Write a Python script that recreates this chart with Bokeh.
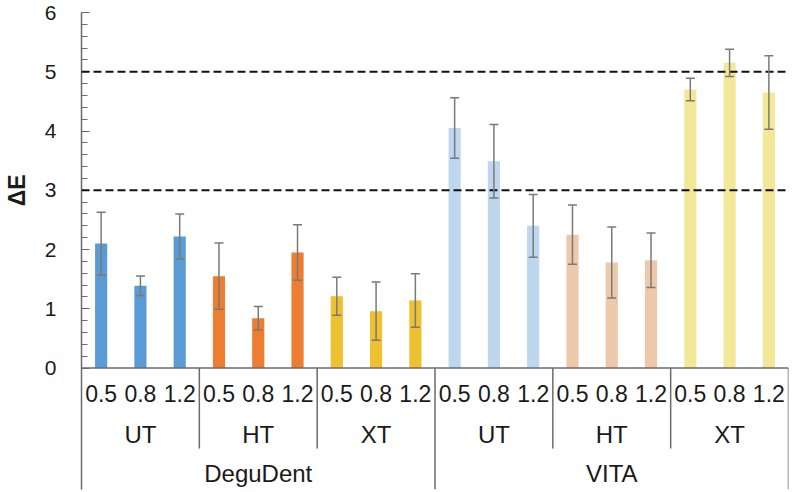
from bokeh.plotting import figure
from bokeh.models import (FactorRange, Range1d, ColumnDataSource, Whisker, TeeHead,
                          Span, LinearAxis, FixedTicker)
from bokeh.core.properties import value
from bokeh.embed import file_html
from bokeh.resources import INLINE

# ---------------- data ----------------
makers = ["DeguDent", "VITA"]
types = ["UT", "HT", "XT"]
thicknesses = ["0.5", "0.8", "1.2"]

# mean ΔE per (maker, type, thickness), in order
degudent_means = [2.10, 1.39, 2.22, 1.55, 0.84, 1.95, 1.21, 0.96, 1.14]
vita_means = [4.05, 3.49, 2.40, 2.25, 1.78, 1.82, 4.70, 5.15, 4.65]
# standard deviations
degudent_sd = [0.53, 0.165, 0.38, 0.56, 0.20, 0.47, 0.32, 0.49, 0.45]
vita_sd = [0.51, 0.62, 0.53, 0.50, 0.60, 0.46, 0.19, 0.23, 0.62]

thresholds = [3, 5]
y_ticks = [0, 1, 2, 3, 4, 5, 6]
y_title = "ΔE"
y_title_level = 3

type_colors = {
    ("DeguDent", "UT"): "#5B9BD5",
    ("DeguDent", "HT"): "#ED7D31",
    ("DeguDent", "XT"): "#EDC12F",
    ("VITA", "UT"): "#BDD7EE",
    ("VITA", "HT"): "#EDC8AB",
    ("VITA", "XT"): "#F2E897",
}

# ---------------- build ----------------
factors = [(m, t, th) for m in makers for t in types for th in thicknesses]
means = degudent_means + vita_means
sds = degudent_sd + vita_sd
colors = [type_colors[(m, t)] for (m, t, th) in factors]

src = ColumnDataSource(dict(
    x=factors, top=means, color=colors,
    upper=[a + b for a, b in zip(means, sds)],
    lower=[a - b for a, b in zip(means, sds)],
))

FONT = "Liberation Sans"
TXT = "#1a1a1a"
AXC = "#6b6b6b"

x_range = FactorRange(*factors, range_padding=0, factor_padding=0,
                      group_padding=0, subgroup_padding=0)
y_bottom = -2.05
p = figure(width=792, height=492, x_range=x_range, y_range=Range1d(y_bottom, 6),
           output_backend="svg", toolbar_location=None, x_axis_location=None,
           min_border_left=81, min_border_right=4, min_border_top=12, min_border_bottom=3)
p.outline_line_color = None
p.grid.visible = False
p.background_fill_color = "white"
p.border_fill_color = "white"

# y axis
ya = p.yaxis[0]
ya.ticker = FixedTicker(ticks=y_ticks,
                        minor_ticks=[i / 5 for i in range(0, 31)])
ya.axis_line_color = AXC
ya.axis_line_width = 1.5
ya.major_tick_line_color = AXC
ya.minor_tick_line_color = AXC
ya.major_tick_in = 8
ya.major_tick_out = 0
ya.minor_tick_in = 6
ya.minor_tick_out = 0
ya.major_label_standoff = 25
ya.major_label_text_font = FONT
ya.major_label_text_font_size = "21px"
ya.major_label_text_color = TXT

# y axis title, drawn as a rotated tick label of an outer axis (at the ΔE = 3 level)
title_axis = LinearAxis(ticker=FixedTicker(ticks=[y_title_level], minor_ticks=[]),
                        major_label_overrides={y_title_level: y_title},
                        major_label_orientation="vertical",
                        major_label_standoff=11,
                        major_label_text_font=FONT,
                        major_label_text_font_size="23px",
                        major_label_text_font_style="bold",
                        major_label_text_color=TXT,
                        axis_line_color=None, major_tick_line_color=None,
                        minor_tick_line_color=None,
                        major_tick_in=0, major_tick_out=0)
p.add_layout(title_axis, "left")

# bars
p.vbar(x="x", top="top", width=0.31, source=src, fill_color="color", line_color=None)

# error bars (drawn over the bars)
wcol = "#7a7a7a"
w = Whisker(source=src, base="x", upper="upper", lower="lower", level="overlay",
            line_color=wcol, line_width=1.5,
            upper_head=TeeHead(size=9, line_color=wcol, line_width=1.5),
            lower_head=TeeHead(size=9, line_color=wcol, line_width=1.5))
p.add_layout(w)

# threshold lines
for t in thresholds:
    p.add_layout(Span(location=t, dimension="width", line_color="#111111",
                      line_width=2, line_dash="8 4"))

# category table (manual multi-level x axis)
n_th = len(thicknesses)
n_total = len(factors)
p.segment(x0=[0], x1=[n_total], y0=[0], y1=[0], line_color=AXC, line_width=1.5)
type_bounds = [n_th * k for k in range(1, len(makers) * len(types)) if k % len(types) != 0]
maker_bounds = [n_th * len(types) * k for k in range(1, len(makers) + 1)]
p.segment(x0=type_bounds, x1=type_bounds, y0=[0] * len(type_bounds),
          y1=[-1.36] * len(type_bounds), line_color=AXC, line_width=1.5)
p.segment(x0=maker_bounds, x1=maker_bounds, y0=[0] * len(maker_bounds),
          y1=[y_bottom] * len(maker_bounds), line_color=AXC, line_width=1.5)

p.text(x=factors, y=[-0.43] * len(factors), text=[f[2] for f in factors],
       text_font=value(FONT), text_font_size="23px", text_color=TXT,
       text_align="center", text_baseline="middle")
mids = [(m, t) for m in makers for t in types]
p.text(x=mids, y=[-1.12] * len(mids), text=[t for (m, t) in mids],
       text_font=value(FONT), text_font_size="24px", text_color=TXT,
       text_align="center", text_baseline="middle")
p.text(x=makers, y=[-1.78] * len(makers), text=makers,
       text_font=value(FONT), text_font_size="24px", text_color=TXT,
       text_align="center", text_baseline="middle")

open("out.html", "w").write(file_html(p, INLINE))
